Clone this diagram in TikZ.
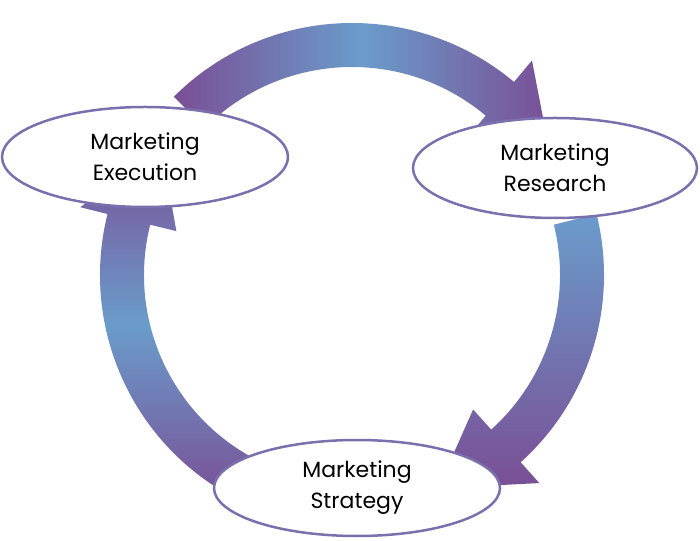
\documentclass[tikz,border=0pt]{standalone}
\usepackage{fontspec}
\setmainfont{Poppins}
\usetikzlibrary{shapes.geometric}
\definecolor{ablue}{HTML}{6A9CCB}
\definecolor{apurple}{HTML}{7A4E95}
\definecolor{eline}{HTML}{7A70AE}
\begin{document}
\begin{tikzpicture}[x=1pt,y=1pt,
  stage/.style={ellipse,draw=eline,line width=2.5pt,fill=white,inner sep=0pt,
     align=center,font=\fontsize{22}{31}\selectfont},
  ]
\useasboundingbox (0,0) rectangle (700,540);
\coordinate (C) at (352,265);
\def\R{252}\def\r{208}\def\m{230}
% top arrow
\path[left color=apurple,right color=apurple,middle color=ablue]
  ([shift={(135:\R)}]C) arc (135:50:\R) -- ([shift={(50:280)}]C) -- ([shift={(30:\m)}]C)
  -- ([shift={(50:181)}]C) -- ([shift={(50:\r)}]C) arc (50:135:\r) -- cycle;
% right arrow
\path[top color=ablue,bottom color=apurple]
  ([shift={(14:\R)}]C) arc (14:-48:\R) -- ([shift={(-48:280)}]C) -- ([shift={(-68:\m)}]C)
  -- ([shift={(-48:181)}]C) -- ([shift={(-48:\r)}]C) arc (-48:14:\r) -- cycle;
% left arrow
\path[top color=apurple,bottom color=apurple,middle color=ablue]
  ([shift={(-115:\R)}]C) arc (-115:-194:\R) -- ([shift={(166:280)}]C) -- ([shift={(146:\m)}]C)
  -- ([shift={(166:181)}]C) -- ([shift={(166:\r)}]C) arc (-194:-115:\r) -- cycle;
\node[stage,minimum width=286pt,minimum height=100pt] (exe) at (145,383) {Marketing\\Execution};
\node[stage,minimum width=284pt,minimum height=100pt] (res) at (555,372) {Marketing\\Research};
\node[stage,minimum width=286pt,minimum height=96pt] (str) at (357,52) {Marketing\\Strategy};
\end{tikzpicture}
\end{document}
